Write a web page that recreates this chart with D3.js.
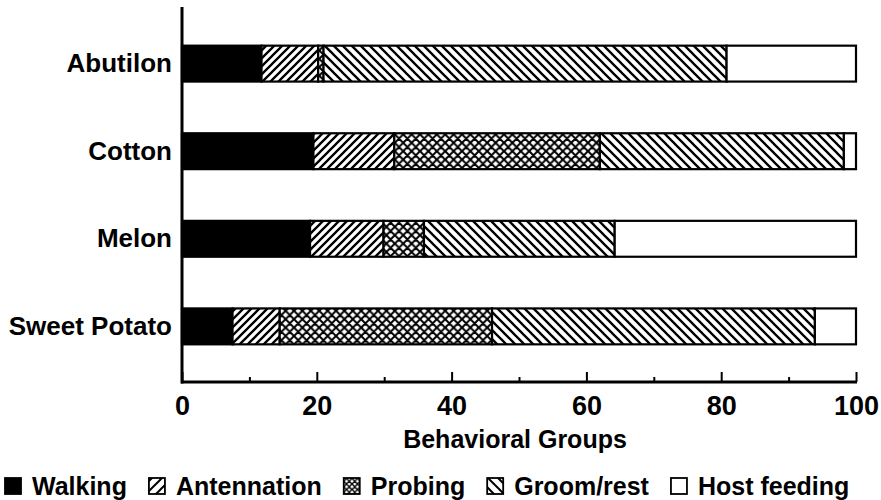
<!DOCTYPE html>
<html lang="en">
<head>
  <meta charset="UTF-8">
  <title>Behavioral Groups by Host Plant</title>
  <script src="https://d3js.org/d3.v7.min.js"></script>
  <style>
    body { margin: 0; background: white; }
    svg text {
      font-family: "Liberation Sans", Arial, sans-serif;
      font-weight: bold;
      fill: black;
    }
  </style>
</head>
<body>
  <div id="chart"></div>

  <script>
    // data (percent of time)
    const categories = ["Abutilon", "Cotton", "Melon", "Sweet Potato"];
    const behaviors = ["Walking", "Antennation", "Probing", "Groom/rest", "Host feeding"];
    const walking     = [11.8, 19.5, 19.0, 7.5];
    const antennation = [8.4, 12.0, 10.9, 7.0];
    const probing     = [0.8, 30.5, 6.0, 31.5];
    const groomRest   = [59.8, 36.2, 28.3, 47.9];
    const hostFeeding = [19.2, 1.8, 35.8, 6.1];
    const majorTicks = [0, 20, 40, 60, 80, 100];
    const minorTicks = [10, 30, 50, 70, 90];

    const width = 881, height = 500;
    const svg = d3.select("#chart").append("svg")
      .attr("width", width)
      .attr("height", height);

    // hatch patterns
    const defs = svg.append("defs");
    function hatch(id, size, kind, sw) {
      const p = defs.append("pattern")
        .attr("id", id)
        .attr("patternUnits", "userSpaceOnUse")
        .attr("width", size)
        .attr("height", size);
      p.append("rect").attr("width", size).attr("height", size).attr("fill", "white");
      const s = size;
      const fwd = `M${-s / 2},${s / 2} L${s / 2},${-s / 2} M0,${s} L${s},0 M${s / 2},${s * 1.5} L${s * 1.5},${s / 2}`;
      const back = `M${-s / 2},${s / 2} L${s / 2},${s * 1.5} M0,0 L${s},${s} M${s / 2},${-s / 2} L${s * 1.5},${s / 2}`;
      let d = kind === "fwd" ? fwd : kind === "back" ? back : fwd + " " + back;
      p.append("path").attr("d", d).attr("stroke", "black").attr("stroke-width", sw).attr("fill", "none");
    }
    hatch("ant", 8, "fwd", 2.3);
    hatch("probe", 8.4, "cross", 2);
    hatch("groom", 9, "back", 2.3);
    hatch("antL", 10, "fwd", 2);
    hatch("probeL", 5.5, "cross", 1.4);
    hatch("groomL", 10, "back", 2);

    const fills = ["black", "url(#ant)", "url(#probe)", "url(#groom)", "white"];
    const legendFills = ["black", "url(#antL)", "url(#probeL)", "url(#groomL)", "white"];

    const table = categories.map((c, i) => ({
      cat: c,
      "Walking": walking[i],
      "Antennation": antennation[i],
      "Probing": probing[i],
      "Groom/rest": groomRest[i],
      "Host feeding": hostFeeding[i]
    }));
    const series = d3.stack().keys(behaviors)(table);

    const x = d3.scaleLinear().domain([0, 100]).range([182, 856]);
    const y = d3.scaleBand().domain(categories).range([8, 382])
      .paddingInner(0.59).paddingOuter(0.43);

    // bars
    svg.append("g").selectAll("g")
      .data(series)
      .join("g")
      .attr("fill", (d, i) => fills[i])
      .selectAll("rect")
      .data(d => d)
      .join("rect")
      .attr("x", d => x(d[0]))
      .attr("y", d => y(d.data.cat))
      .attr("width", d => x(d[1]) - x(d[0]))
      .attr("height", y.bandwidth())
      .attr("stroke", "black")
      .attr("stroke-width", 2.2);

    // x axis, ticks pointing inward
    const xAxis = svg.append("g")
      .attr("transform", `translate(0,382)`)
      .call(d3.axisBottom(x).tickValues(majorTicks).tickSizeInner(-10).tickSizeOuter(0).tickPadding(14));
    xAxis.select(".domain").attr("stroke-width", 3).attr("d", "M181,0H857");
    xAxis.selectAll(".tick line").attr("stroke-width", 2);
    xAxis.selectAll(".tick text").style("font-size", "27px");

    const xMinor = svg.append("g")
      .attr("transform", `translate(0,382)`)
      .call(d3.axisBottom(x).tickValues(minorTicks).tickSizeInner(-5).tickSizeOuter(0).tickFormat(""));
    xMinor.select(".domain").remove();
    xMinor.selectAll(".tick line").attr("stroke-width", 2);

    svg.append("text")
      .attr("x", 515)
      .attr("y", 448)
      .attr("text-anchor", "middle")
      .style("font-size", "25px")
      .text("Behavioral Groups");

    // y axis
    const yAxis = svg.append("g")
      .attr("transform", `translate(182,0)`)
      .call(d3.axisLeft(y).tickSize(0).tickPadding(10));
    yAxis.select(".domain").attr("stroke-width", 3).attr("d", "M0,7V383.5");
    yAxis.selectAll(".tick text").style("font-size", "26px");

    // legend
    const legend = svg.append("g");
    let lx = 5;
    behaviors.forEach((b, i) => {
      legend.append("rect")
        .attr("x", lx).attr("y", 478)
        .attr("width", 16).attr("height", 16)
        .attr("fill", legendFills[i])
        .attr("stroke", "black")
        .attr("stroke-width", 1.8);
      const t = legend.append("text")
        .attr("x", lx + 27).attr("y", 495)
        .style("font-size", "25px")
        .text(b);
      lx += 27 + t.node().getComputedTextLength() + 22;
    });
  </script>
</body>
</html>
